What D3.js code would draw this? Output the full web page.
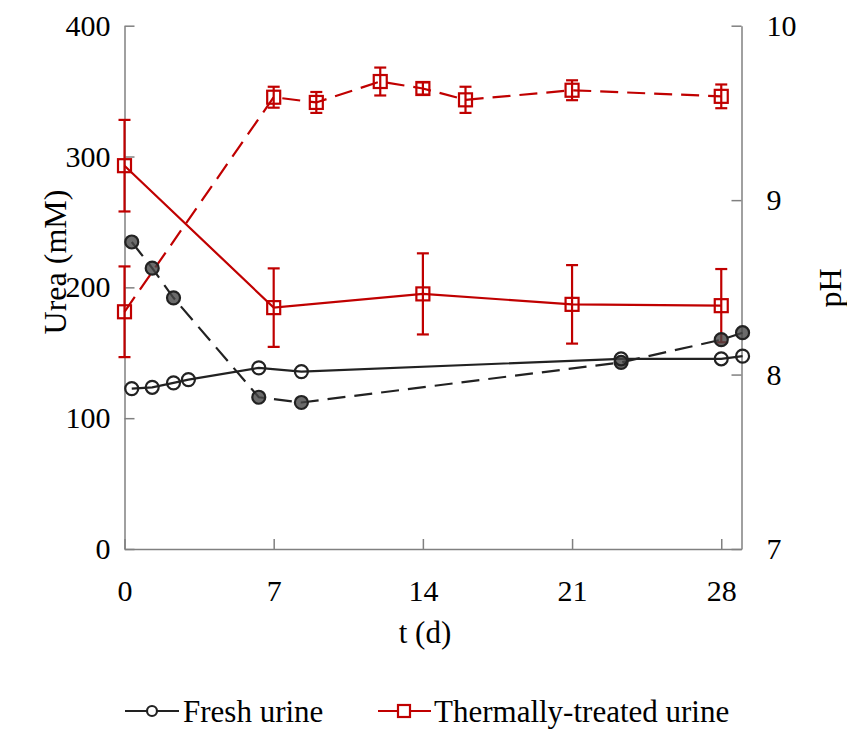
<!DOCTYPE html>
<html>
<head>
<meta charset="utf-8">
<script src="https://cdn.jsdelivr.net/npm/d3@7"></script>
<style>
body { margin: 0; background: white; }
text { font-family: "Liberation Serif", "Times New Roman", serif; fill: #000; }
</style>
</head>
<body>
<svg id="chart" width="847" height="729"></svg>
<script>
// fresh urine
const freshUreaDay = [0.34, 1.3, 2.3, 3.0, 6.3, 8.3, 23.3, 28, 29];
const freshUrea = [122.6, 123.6, 127, 129.5, 138.5, 135.6, 145.4, 145.4, 147.4];
const freshPhDay = [0.34, 1.3, 2.3, 6.3, 8.3, 23.3, 28, 29];
const freshPh = [8.76, 8.61, 8.44, 7.87, 7.84, 8.07, 8.20, 8.24];

// thermally treated urine
const thermUreaDay = [0, 7, 14, 21, 28];
const thermUrea = [293, 184.5, 195, 187, 186];
const thermUreaErr = [35, 30, 31, 30, 28];
const thermPhDay = [0, 7, 9, 12, 14, 16, 21, 28];
const thermPh = [8.36, 9.59, 9.56, 9.68, 9.64, 9.575, 9.63, 9.595];
const thermPhErr = [0.26, 0.06, 0.06, 0.08, 0.035, 0.075, 0.057, 0.068];

const xTicks = [0, 7, 14, 21, 28];
const ureaTicks = [0, 100, 200, 300, 400];
const phTicks = [7, 8, 9, 10];
const legendLabels = ["Fresh urine", "Thermally-treated urine"];

const red = "#c00000";
const black = "#222";
const axisColor = "#808080";

const svg = d3.select("#chart");
const plotLeft = 124.5, plotRight = 741.5, plotTop = 25.7, plotBottom = 549;

const x = d3.scaleLinear().domain([0, 28.95]).range([plotLeft, plotRight]);
const yU = d3.scaleLinear().domain([0, 400]).range([plotBottom, plotTop]);
const yP = d3.scaleLinear().domain([7, 10]).range([plotBottom, plotTop]);

// axes, ticks inside
function styleAxis(g) {
    g.selectAll("path,line").attr("stroke", axisColor).attr("stroke-width", 1.5);
    g.selectAll("text").style("font-size", "30px").attr("fill", "#000");
}

svg.append("g")
    .attr("transform", `translate(0,${plotBottom})`)
    .call(d3.axisBottom(x).tickValues(xTicks).tickSizeInner(-10).tickSizeOuter(0).tickPadding(52))
    .call(styleAxis)
    .call(g => g.selectAll("text").attr("dy", "0"));

svg.append("g")
    .attr("transform", `translate(${plotLeft},0)`)
    .call(d3.axisLeft(yU).tickValues(ureaTicks).tickSizeInner(-10).tickSizeOuter(0).tickPadding(14))
    .call(styleAxis);

svg.append("g")
    .attr("transform", `translate(${plotRight},0)`)
    .call(d3.axisRight(yP).tickValues(phTicks).tickSizeInner(-10).tickSizeOuter(0).tickFormat(d3.format("d")).tickPadding(25))
    .call(styleAxis);

// axis titles
svg.append("text").attr("transform", "translate(55,262) rotate(-90)")
    .attr("text-anchor", "middle").attr("dy", "0.35em").style("font-size", "32px").text("Urea (mM)");
svg.append("text").attr("transform", "translate(830,288) rotate(-90)")
    .attr("text-anchor", "middle").attr("dy", "0.35em").style("font-size", "32px").text("pH");
svg.append("text").attr("x", (plotLeft + plotRight) / 2 - 8).attr("y", 643)
    .attr("text-anchor", "middle").style("font-size", "31px").text("t (d)");

function zip(xs, ys, es) {
    return xs.map((d, i) => ({ x: d, y: ys[i], e: es ? es[i] : 0 }));
}

const freshU = zip(freshUreaDay, freshUrea);
const freshP = zip(freshPhDay, freshPh);
const thermU = zip(thermUreaDay, thermUrea, thermUreaErr);
const thermP = zip(thermPhDay, thermPh, thermPhErr);

function drawLine(data, yScale, color, dash) {
    svg.append("path")
        .datum(data)
        .attr("fill", "none")
        .attr("stroke", color)
        .attr("stroke-width", 2.2)
        .attr("stroke-dasharray", dash)
        .attr("d", d3.line().x(d => x(d.x)).y(d => yScale(d.y)));
}

function drawErrors(data, yScale, color) {
    const g = svg.append("g").attr("stroke", color).attr("stroke-width", 2.2);
    data.forEach(d => {
        const x0 = x(d.x), y1 = yScale(d.y + d.e), y2 = yScale(d.y - d.e);
        g.append("line").attr("x1", x0).attr("x2", x0).attr("y1", y1).attr("y2", y2);
        g.append("line").attr("x1", x0 - 6).attr("x2", x0 + 6).attr("y1", y1).attr("y2", y1);
        g.append("line").attr("x1", x0 - 6).attr("x2", x0 + 6).attr("y1", y2).attr("y2", y2);
    });
}

function drawSquares(data, yScale) {
    svg.append("g").selectAll("rect")
        .data(data).enter().append("rect")
        .attr("x", d => x(d.x) - 6.5).attr("y", d => yScale(d.y) - 6.5)
        .attr("width", 13).attr("height", 13)
        .attr("fill", "none").attr("stroke", red).attr("stroke-width", 2.2);
}

function drawCircles(data, yScale, fill) {
    svg.append("g").selectAll("circle")
        .data(data).enter().append("circle")
        .attr("cx", d => x(d.x)).attr("cy", d => yScale(d.y))
        .attr("r", 6.5)
        .attr("fill", fill).attr("stroke", black).attr("stroke-width", 2.2);
}

drawLine(thermP, yP, red, "18,9");
drawLine(thermU, yU, red, null);
drawErrors(thermP, yP, red);
drawErrors(thermU, yU, red);
drawSquares(thermP, yP);
drawSquares(thermU, yU);

drawLine(freshP, yP, black, "18,9");
drawLine(freshU, yU, black, null);
drawCircles(freshP, yP, "rgba(70,70,70,0.8)");
drawCircles(freshU, yU, "none");

// legend
const leg = svg.append("g");
leg.append("line").attr("x1", 125).attr("x2", 179).attr("y1", 711).attr("y2", 711)
    .attr("stroke", black).attr("stroke-width", 2.2);
leg.append("circle").attr("cx", 152).attr("cy", 711).attr("r", 5)
    .attr("fill", "white").attr("stroke", black).attr("stroke-width", 2.2);
leg.append("text").attr("x", 183).attr("y", 722).style("font-size", "31px").text(legendLabels[0]);

leg.append("line").attr("x1", 378).attr("x2", 431).attr("y1", 711).attr("y2", 711)
    .attr("stroke", red).attr("stroke-width", 2.2);
leg.append("rect").attr("x", 398).attr("y", 705).attr("width", 12).attr("height", 12)
    .attr("fill", "white").attr("stroke", red).attr("stroke-width", 2.2);
leg.append("text").attr("x", 434).attr("y", 722).style("font-size", "31px").text(legendLabels[1]);
</script>
</body>
</html>
